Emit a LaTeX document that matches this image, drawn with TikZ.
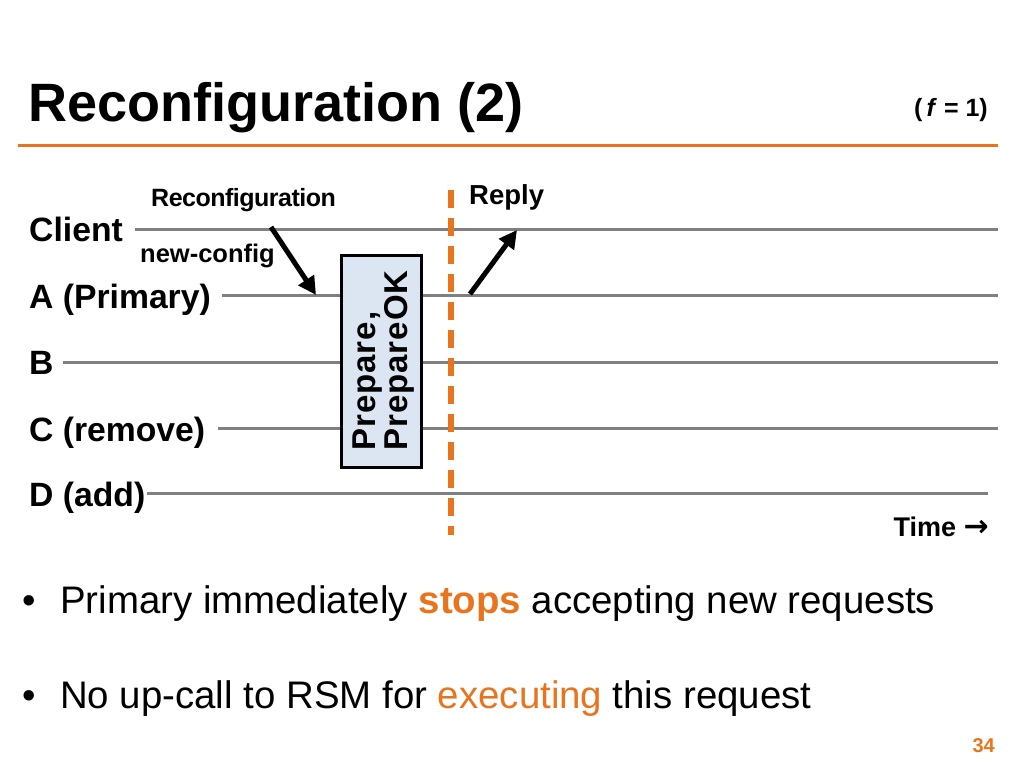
\documentclass[tikz,border=0pt]{standalone}
\usepackage{fontspec}
\setmainfont{Liberation Sans}
\usetikzlibrary{arrows.meta}
\definecolor{orangeC}{RGB}{232,117,30}
\definecolor{grayL}{RGB}{128,128,128}
\definecolor{boxfill}{RGB}{220,230,242}
\tikzset{
  lbl/.style={inner sep=0pt, anchor=base west, font=\fontsize{33.7}{36}\selectfont\bfseries},
  tline/.style={draw=grayL, line width=3pt},
  msg/.style={draw=black, line width=5pt, -{Triangle[length=18pt,width=18pt]}},
  bul/.style={inner sep=0pt, anchor=base west, font=\fontsize{38.4}{42}\selectfont},
}
\begin{document}
\begin{tikzpicture}[x=1pt,y=-1pt]
\useasboundingbox (0,0) rectangle (1024,768);
% title
\node[inner sep=0pt, anchor=base west, font=\fontsize{54}{60}\selectfont\bfseries] (title) at (28,121) {Reconfiguration (2)};
\node[inner sep=0pt, anchor=base east, font=\fontsize{25}{28}\selectfont\bfseries] (fone) at (988,116) {(\,\textit{f} = 1)};
\coordinate (ruleL) at (18,145);
\coordinate (ruleR) at (998,145);
\draw[orangeC, line width=3pt] (ruleL) -- (ruleR);
% labels
\node[lbl] (client) at (29,241) {Client};
\node[lbl] (A) at (29,308) {A (Primary)};
\node[lbl] (B) at (29,374) {B};
\node[lbl] (C) at (29,441) {C (remove)};
\node[lbl] (D) at (29,506) {D (add)};
% timelines
\coordinate (cs) at (135,229); \coordinate (ce) at (998,229);
\coordinate (as) at (222,295); \coordinate (ae) at (998,295);
\coordinate (bs) at (63,362);  \coordinate (be) at (998,362);
\coordinate (c0) at (218,428); \coordinate (c1) at (998,428);
\coordinate (ds) at (147,493); \coordinate (de) at (988,493);
\draw[tline] (cs) -- (ce);
\draw[tline] (as) -- (ae);
\draw[tline] (bs) -- (be);
\draw[tline] (c0) -- (c1);
\draw[tline] (ds) -- (de);
% box
\node[draw=black, line width=2.5pt, fill=boxfill, minimum width=80pt, minimum height=212pt, inner sep=0pt] (box) at (381.5,361.5) {};
\node[rotate=90, align=left, inner sep=0pt, font=\fontsize{33}{32}\selectfont\bfseries] (boxtxt) at ([xshift=2pt,yshift=1pt]box.center) {\addfontfeature{LetterSpace=3}Prepare,\\\addfontfeature{LetterSpace=3}PrepareOK};
% dashed line
\coordinate (vt) at (451,190);
\coordinate (vb) at (451,535);
\draw[orangeC, line width=6pt, dash pattern=on 18pt off 10pt] (vt) -- (vb);
% message labels
\node[inner sep=0pt, anchor=base west, font=\fontsize{25}{28}\selectfont\bfseries] (reconf) at (151,206) {\addfontfeature{LetterSpace=-2}Reconfiguration};
\node[inner sep=0pt, anchor=base west, font=\fontsize{25.5}{28}\selectfont\bfseries] (newcfg) at (140,262) {new-config};
\node[inner sep=0pt, anchor=base west, font=\fontsize{27.5}{30}\selectfont\bfseries] (reply) at (469,204) {Reply};
% arrows
\coordinate (r1) at (271,227);
\coordinate (r2) at (316,295);
\draw[msg] (r1) -- (r2);
\coordinate (p1) at (470,294);
\coordinate (p2) at (517,230);
\draw[msg] (p1) -- (p2);
% time
\node[inner sep=0pt, anchor=base east, font=\fontsize{27}{30}\selectfont\bfseries] (time) at (989,536) {Time {\fontspec{DejaVu Sans}\bfseries\fontsize{30}{30}\selectfont →}};
% bullets
\node[bul] (b1dot) at (22,613) {•};
\node[bul] (b1) at (60,613) {Primary immediately \textcolor{orangeC}{\bfseries stops} accepting new requests};
\node[bul] (b2dot) at (22,708) {•};
\node[bul] (b2) at (60,708) {No up-call to RSM for \textcolor{orangeC}{executing} this request};
\node[inner sep=0pt, anchor=base east, font=\fontsize{20}{24}\selectfont\bfseries, text=orangeC] (pg) at (995,752) {34};
\end{tikzpicture}
\end{document}
